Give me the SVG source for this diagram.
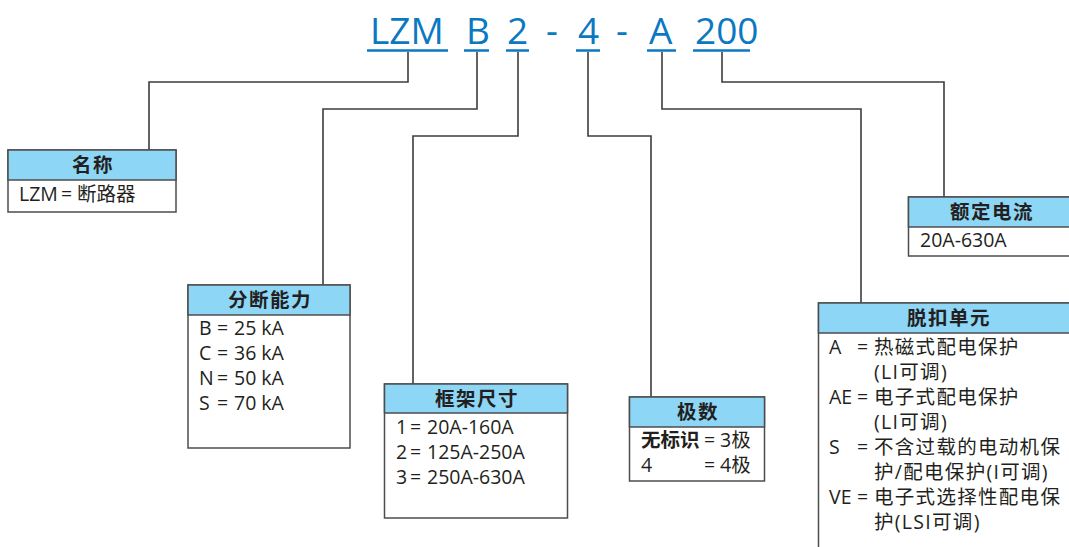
<svg xmlns="http://www.w3.org/2000/svg" width="1069" height="547" viewBox="0 0 1069 547">
<style>
.title{font-family:"Open Sans","Noto Sans",sans-serif;font-size:37px;fill:#0b79c1}
.ul{stroke:#0b79c1;stroke-width:2.5;fill:none}
.conn{stroke:#3c3c3c;stroke-width:1.6;fill:none}
.box{fill:#ffffff;stroke:#4d4d4d;stroke-width:1.5}
.hdr{fill:#8dd6f6;stroke:#4d4d4d;stroke-width:1.5}
.ht{font-family:"Noto Sans CJK SC",sans-serif;font-size:19.5px;font-weight:700;fill:#231f20;text-anchor:middle;letter-spacing:1.5px}
.t{font-family:"Open Sans","Noto Sans CJK SC",sans-serif;font-size:19.5px;fill:#231f20}
.b{font-family:"Noto Sans CJK SC",sans-serif;font-weight:700}
.tc{font-family:"Open Sans","Noto Sans CJK SC",sans-serif;font-size:19.5px;fill:#231f20}
.sp{letter-spacing:1.3px}
</style>
<rect width="1069" height="547" fill="#ffffff"/>
<g id="title">
<text class="title" y="44"><tspan x="370">LZM</tspan><tspan x="466">B</tspan><tspan x="507">2</tspan><tspan x="546">-</tspan><tspan x="578">4</tspan><tspan x="616">-</tspan><tspan x="649">A</tspan><tspan x="695">200</tspan></text>
<line class="ul" x1="367" y1="50.5" x2="448" y2="50.5"/>
<line class="ul" x1="464" y1="50.5" x2="489" y2="50.5"/>
<line class="ul" x1="506" y1="50.5" x2="529" y2="50.5"/>
<line class="ul" x1="576" y1="50.5" x2="600" y2="50.5"/>
<line class="ul" x1="647" y1="50.5" x2="676" y2="50.5"/>
<line class="ul" x1="693" y1="50.5" x2="750" y2="50.5"/>
</g>
<g id="connectors">
<path class="conn" d="M408,52 V82 H149 V150"/>
<path class="conn" d="M477,52 V109 H323 V285"/>
<path class="conn" d="M518,52 V136 H413 V384"/>
<path class="conn" d="M588,52 V136 H651 V397"/>
<path class="conn" d="M662,52 V109 H861 V303"/>
<path class="conn" d="M722,52 V82 H944 V197"/>
</g>
<g id="node-name">
<rect class="box" x="8" y="150" width="168" height="62"/>
<rect class="hdr" x="8" y="150" width="168" height="30"/>
<text class="ht" x="93" y="172">名称</text>
<text class="t" y="201"><tspan x="19">LZM</tspan><tspan x="61">=</tspan><tspan x="77">断路器</tspan></text>
</g>
<g id="node-breaking">
<rect class="box" x="188" y="285" width="162" height="163"/>
<rect class="hdr" x="188" y="285" width="162" height="30"/>
<text class="ht" x="270" y="307">分断能力</text>
<text class="t" y="335"><tspan x="199">B</tspan><tspan x="217">=</tspan><tspan x="234">25 kA</tspan></text>
<text class="t" y="360"><tspan x="199">C</tspan><tspan x="217">=</tspan><tspan x="234">36 kA</tspan></text>
<text class="t" y="385"><tspan x="199">N</tspan><tspan x="217">=</tspan><tspan x="234">50 kA</tspan></text>
<text class="t" y="410"><tspan x="199">S</tspan><tspan x="217">=</tspan><tspan x="234">70 kA</tspan></text>
</g>
<g id="node-frame">
<rect class="box" x="384.5" y="384" width="183" height="134"/>
<rect class="hdr" x="384.5" y="384" width="183" height="29"/>
<text class="ht" x="477" y="406">框架尺寸</text>
<text class="t" y="434"><tspan x="396">1</tspan><tspan x="410">=</tspan><tspan x="427">20A-160A</tspan></text>
<text class="t" y="459"><tspan x="396">2</tspan><tspan x="410">=</tspan><tspan x="427">125A-250A</tspan></text>
<text class="t" y="484"><tspan x="396">3</tspan><tspan x="410">=</tspan><tspan x="427">250A-630A</tspan></text>
</g>
<g id="node-poles">
<rect class="box" x="629.5" y="397" width="135" height="84"/>
<rect class="hdr" x="629.5" y="397" width="135" height="30"/>
<text class="ht" x="698" y="419">极数</text>
<text class="t" y="447"><tspan class="b" x="641">无标识</tspan><tspan x="704">=</tspan><tspan x="720">3极</tspan></text>
<text class="t" y="472"><tspan x="641">4</tspan><tspan x="704">=</tspan><tspan x="720">4极</tspan></text>
</g>
<g id="node-trip">
<rect class="box" x="818.5" y="303" width="260" height="260"/>
<rect class="hdr" x="818.5" y="303" width="260" height="30"/>
<text class="ht" x="949" y="325">脱扣单元</text>
<text class="tc" y="354"><tspan x="829">A</tspan><tspan x="857">=</tspan><tspan class="sp" x="874">热磁式配电保护</tspan></text>
<text class="tc sp" x="874" y="379">(LI可调)</text>
<text class="tc" y="404"><tspan x="829">AE</tspan><tspan x="857">=</tspan><tspan class="sp" x="874">电子式配电保护</tspan></text>
<text class="tc sp" x="874" y="429">(LI可调)</text>
<text class="tc" y="454"><tspan x="829">S</tspan><tspan x="857">=</tspan><tspan class="sp" x="874">不含过载的电动机保</tspan></text>
<text class="tc sp" x="874" y="479">护/配电保护(I可调)</text>
<text class="tc" y="504"><tspan x="829">VE</tspan><tspan x="857">=</tspan><tspan class="sp" x="874">电子式选择性配电保</tspan></text>
<text class="tc sp" x="874" y="529">护(LSI可调)</text>
</g>
<g id="node-current">
<rect class="box" x="908.5" y="197" width="170" height="59"/>
<rect class="hdr" x="908.5" y="197" width="170" height="30"/>
<text class="ht" x="992" y="219">额定电流</text>
<text class="t" x="920" y="247">20A-630A</text>
</g>
</svg>
